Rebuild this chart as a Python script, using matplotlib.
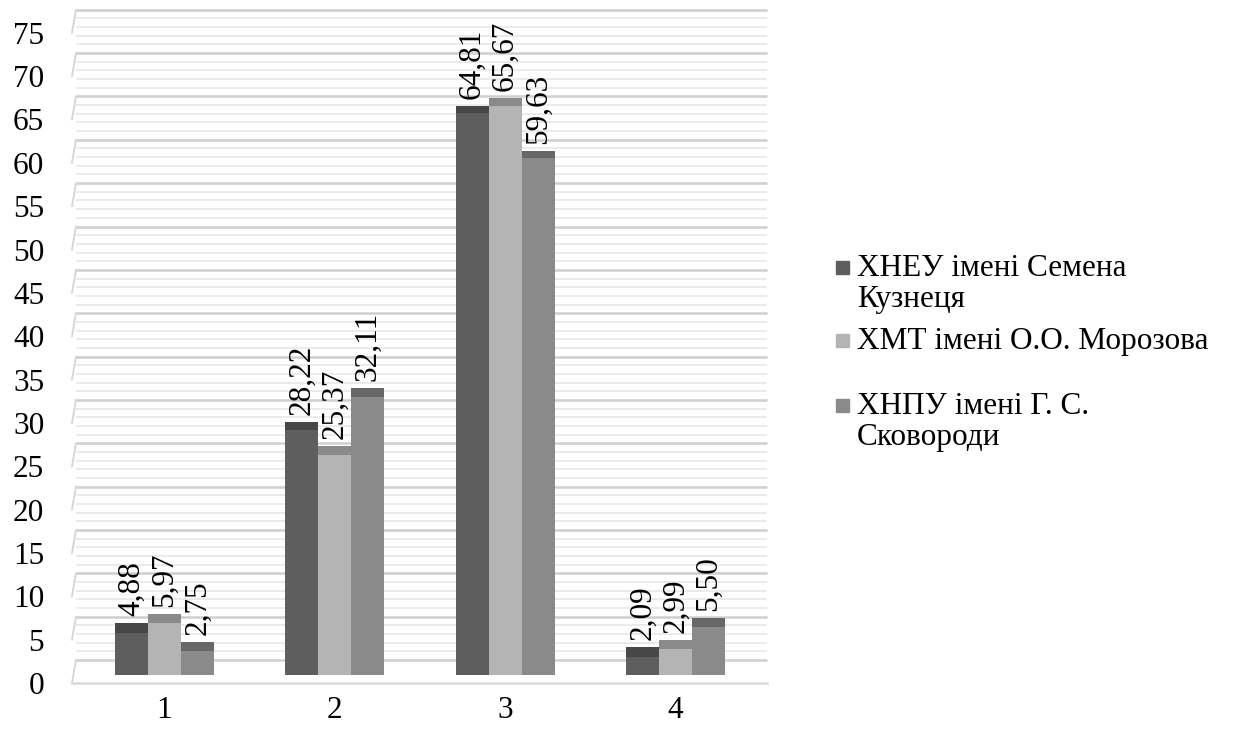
import numpy as np
import matplotlib
matplotlib.use('Agg')
import matplotlib.pyplot as plt
import matplotlib.transforms as mtransforms
from matplotlib.patches import Rectangle

plt.rcParams['font.family'] = ['Liberation Serif', 'DejaVu Serif']

# дані
categories = ['1', '2', '3', '4']
series_names = ['ХНЕУ імені Семена\nКузнеця',
                'ХМТ імені О.О. Морозова',
                'ХНПУ імені Г. С.\nСковороди']
s1 = [4.88, 28.22, 64.81, 2.09]
s2 = [5.97, 25.37, 65.67, 2.99]
s3 = [2.75, 32.11, 59.63, 5.50]
values = [s1, s2, s3]
yticks = list(range(0, 80, 5))

front_colors = ['#5e5e5e', '#b4b4b4', '#8a8a8a']
cap_colors = ['#474747', '#8a8a8a', '#676767']

W, H = 1234, 733
fig = plt.figure(figsize=(W / 100, H / 100), dpi=100)

# геометрія в пікселях
scale = 8.67          # px на одиницю
y0 = 675              # px для значення 0 (передня грань стовпчиків)
grp = 170.33          # px між групами
c1 = 164.5            # центр першої групи
left_px, right_px, top_px, bot_px = 72, 767, 9, 683

ax = fig.add_axes([left_px / W, 1 - bot_px / H,
                   (right_px - left_px) / W, (bot_px - top_px) / H])
ax.set_ylim(-(bot_px - y0) / scale, (y0 - top_px) / scale)
ax.set_xlim(1 - (c1 - left_px) / grp, 1 + (right_px - c1) / grp)

fs = 22.5
x = np.arange(1, len(categories) + 1)
bw = 33 / grp
back = 15 / scale     # зсув задньої стінки

# сітка на задній стінці
wall_dx = 4 / grp
xl = ax.get_xlim()
for v in np.arange(0, 76, 1):
    major = v % 5 == 0
    ax.plot([xl[0] + wall_dx, xl[1]], [v + back, v + back],
            color='#cfcfcf' if major else '#ebebeb',
            lw=1.8 if major else 1.4, zorder=0, clip_on=False,
            solid_capstyle='butt')
    if major:
        ax.plot([xl[0], xl[0] + wall_dx], [v - (bot_px - y0) / scale, v + back],
                color='#d5d5d5', lw=1.3, zorder=0, clip_on=False)

for i, vals in enumerate(values):
    xs = x + (i - 1) * bw
    vals = np.array(vals)
    ax.bar(xs, vals, width=bw, color=front_colors[i], zorder=2, linewidth=0)
    cap = 1.1 - 0.004 * vals
    ax.bar(xs, cap, bottom=vals, width=bw, color=cap_colors[i], zorder=2,
           linewidth=0)
    for xi, v, c in zip(xs, vals, cap):
        ax.annotate(f'{v:.2f}'.replace('.', ','), (xi, v + c),
                    xytext=(0, 5), textcoords='offset points',
                    rotation=90, ha='center', va='bottom', fontsize=fs,
                    zorder=3)

ax.set_xticks(x)
ax.set_xticklabels(categories, fontsize=fs)
ax.set_yticks(yticks)
ax.set_yticklabels([str(t) for t in yticks], fontsize=fs)
ax.tick_params(axis='both', length=0)
ax.tick_params(axis='y', pad=20)
ax.tick_params(axis='x', pad=9)
shift = mtransforms.ScaledTranslation(0, -(bot_px - y0) / 100, fig.dpi_scale_trans)
for lab in ax.get_yticklabels():
    lab.set_transform(lab.get_transform() + shift)

for s in ['top', 'right', 'left']:
    ax.spines[s].set_visible(False)
ax.spines['bottom'].set_color('#d9d9d9')
ax.spines['bottom'].set_linewidth(1.8)
ax.patch.set_alpha(0)

# легенда
leg_y = [267, 340, 405]
for name, col, cy in zip(series_names, front_colors, leg_y):
    fig.add_artist(Rectangle((836 / W, 1 - (cy + 7) / H), 13 / W, 13 / H,
                             transform=fig.transFigure, color=col))
    fig.text(857 / W, 1 - (cy - 13) / H, name, fontsize=fs, va='top',
             ha='left', linespacing=1.1)

fig.savefig('out.png', dpi=100)
